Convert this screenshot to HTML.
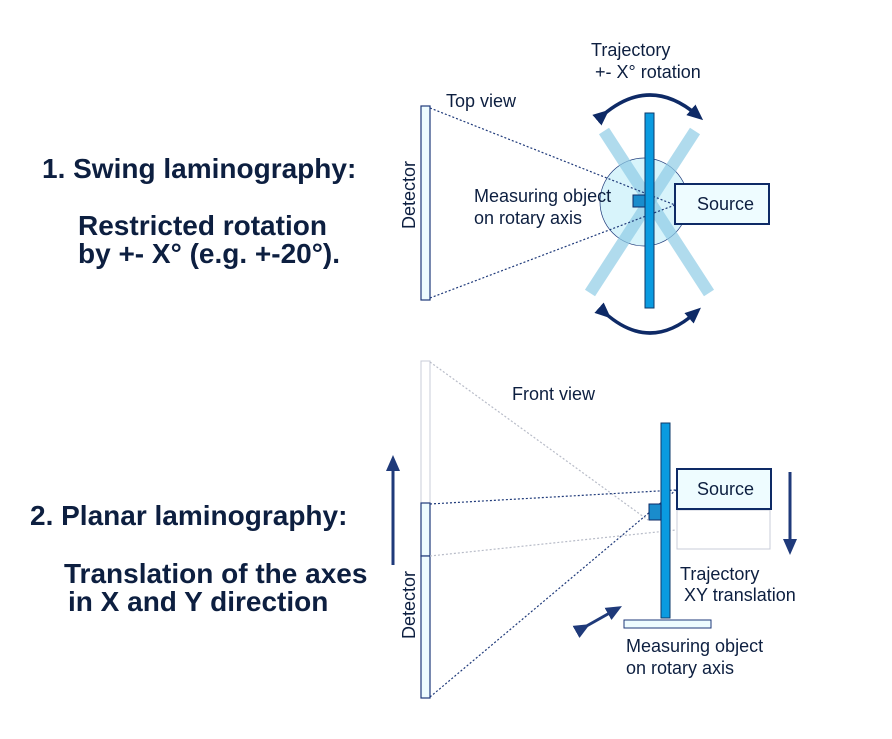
<!DOCTYPE html>
<html><head><style>
body{margin:0;background:#fff;}
svg text{font-family:"Liberation Sans",Arial,sans-serif;}
</style></head><body>
<svg width="892" height="734" viewBox="0 0 892 734" xmlns="http://www.w3.org/2000/svg">
<defs>
<marker id="ah" markerWidth="16" markerHeight="16" refX="8" refY="8" orient="auto" markerUnits="userSpaceOnUse"><path d="M0,1 L16,8 L0,15 z" fill="#1f3a7a"/></marker>
<marker id="ah2" markerWidth="16" markerHeight="16" refX="8" refY="8" orient="auto" markerUnits="userSpaceOnUse"><path d="M0,1 L16,8 L0,15 z" fill="#0e2a66"/></marker>
</defs>
<g fill="#0d1f40" font-weight="bold" font-size="28">
<text x="42" y="178">1. Swing laminography:</text>
<text x="78" y="235">Restricted rotation</text>
<text x="78" y="263">by +- X° (e.g. +-20°).</text>
<text x="30" y="525">2. Planar laminography:</text>
<text x="64" y="583">Translation of the axes</text>
<text x="68" y="611">in X and Y direction</text>
</g>
<g font-size="18" fill="#0d1f40">
<rect x="421" y="106" width="9" height="194" fill="#eefcff" stroke="#1f3a7a" stroke-width="1.2"/>
<text transform="translate(415,229) rotate(-90)">Detector</text>
<text x="446" y="107">Top view</text>
<text x="591" y="56">Trajectory</text>
<text x="595" y="78">+- X° rotation</text>
<circle cx="644" cy="202" r="44" fill="#d8f4fb" stroke="#1f3a7a" stroke-width="0.7"/>
<line x1="604" y1="131" x2="709" y2="293" stroke="#8fcce6" stroke-width="12" opacity="0.7"/>
<line x1="695" y1="131" x2="590" y2="293" stroke="#8fcce6" stroke-width="12" opacity="0.7"/>
<line x1="430" y1="108" x2="675" y2="205" stroke="#1f3a7a" stroke-width="1.2" stroke-dasharray="2,2"/>
<line x1="430" y1="298" x2="675" y2="205" stroke="#1f3a7a" stroke-width="1.2" stroke-dasharray="2,2"/>
<rect x="633" y="195" width="13" height="12" fill="#1a8ccc" stroke="#0e2a66"/>
<rect x="645" y="113" width="9" height="195" fill="#0a9be0" stroke="#0d3a6a" stroke-width="1"/>
<rect x="675" y="184" width="94" height="40" fill="#eefcff" stroke="#0e2a66" stroke-width="2"/>
<text x="697" y="210">Source</text>
<text x="474" y="202">Measuring object</text>
<text x="474" y="224">on rotary axis</text>
<path d="M603,115 Q650,75 697,115" fill="none" stroke="#0e2a66" stroke-width="3.5" marker-start="url(#ah2)" marker-end="url(#ah2)"/>
<path d="M605,313 Q650,353 695,313" fill="none" stroke="#0e2a66" stroke-width="3.5" marker-start="url(#ah2)" marker-end="url(#ah2)"/>
<rect x="421" y="361" width="9" height="142" fill="#fff" stroke="#c8ccd8" stroke-width="1"/>
<rect x="421" y="503" width="9" height="53" fill="#eefcff" stroke="#1f3a7a" stroke-width="1.2"/>
<rect x="421" y="556" width="9" height="142" fill="#eefcff" stroke="#1f3a7a" stroke-width="1.2"/>
<text transform="translate(415,639) rotate(-90)">Detector</text>
<text x="512" y="400">Front view</text>
<line x1="430" y1="362" x2="648" y2="520" stroke="#b8bcc8" stroke-width="1.2" stroke-dasharray="2,2"/>
<line x1="430" y1="556" x2="676" y2="530" stroke="#b8bcc8" stroke-width="1.2" stroke-dasharray="2,2"/>
<line x1="430" y1="504" x2="676" y2="490" stroke="#1f3a7a" stroke-width="1.2" stroke-dasharray="2,2"/>
<line x1="430" y1="697" x2="676" y2="490" stroke="#1f3a7a" stroke-width="1.2" stroke-dasharray="2,2"/>
<rect x="677" y="510" width="93" height="39" fill="#fff" stroke="#c8ccd8" stroke-width="1"/>
<rect x="661" y="423" width="9" height="195" fill="#0a9be0" stroke="#0d3a6a" stroke-width="1"/>
<rect x="649" y="504" width="12" height="16" fill="#1a8ccc" stroke="#0e2a66"/>
<rect x="624" y="620" width="87" height="8" fill="#eefcff" stroke="#1f3a7a" stroke-width="1"/>
<rect x="677" y="469" width="94" height="40" fill="#eefcff" stroke="#0e2a66" stroke-width="2"/>
<text x="697" y="495">Source</text>
<text x="680" y="580">Trajectory</text>
<text x="684" y="601">XY translation</text>
<text x="626" y="652">Measuring object</text>
<text x="626" y="674">on rotary axis</text>
</g>
<line x1="393" y1="565" x2="393" y2="463" stroke="#1f3a7a" stroke-width="3" marker-end="url(#ah)"/>
<line x1="790" y1="472" x2="790" y2="547" stroke="#1f3a7a" stroke-width="3" marker-end="url(#ah)"/>
<line x1="583" y1="628" x2="615" y2="610" stroke="#1f3a7a" stroke-width="3" marker-start="url(#ah)" marker-end="url(#ah)"/>
</svg>
</body></html>
